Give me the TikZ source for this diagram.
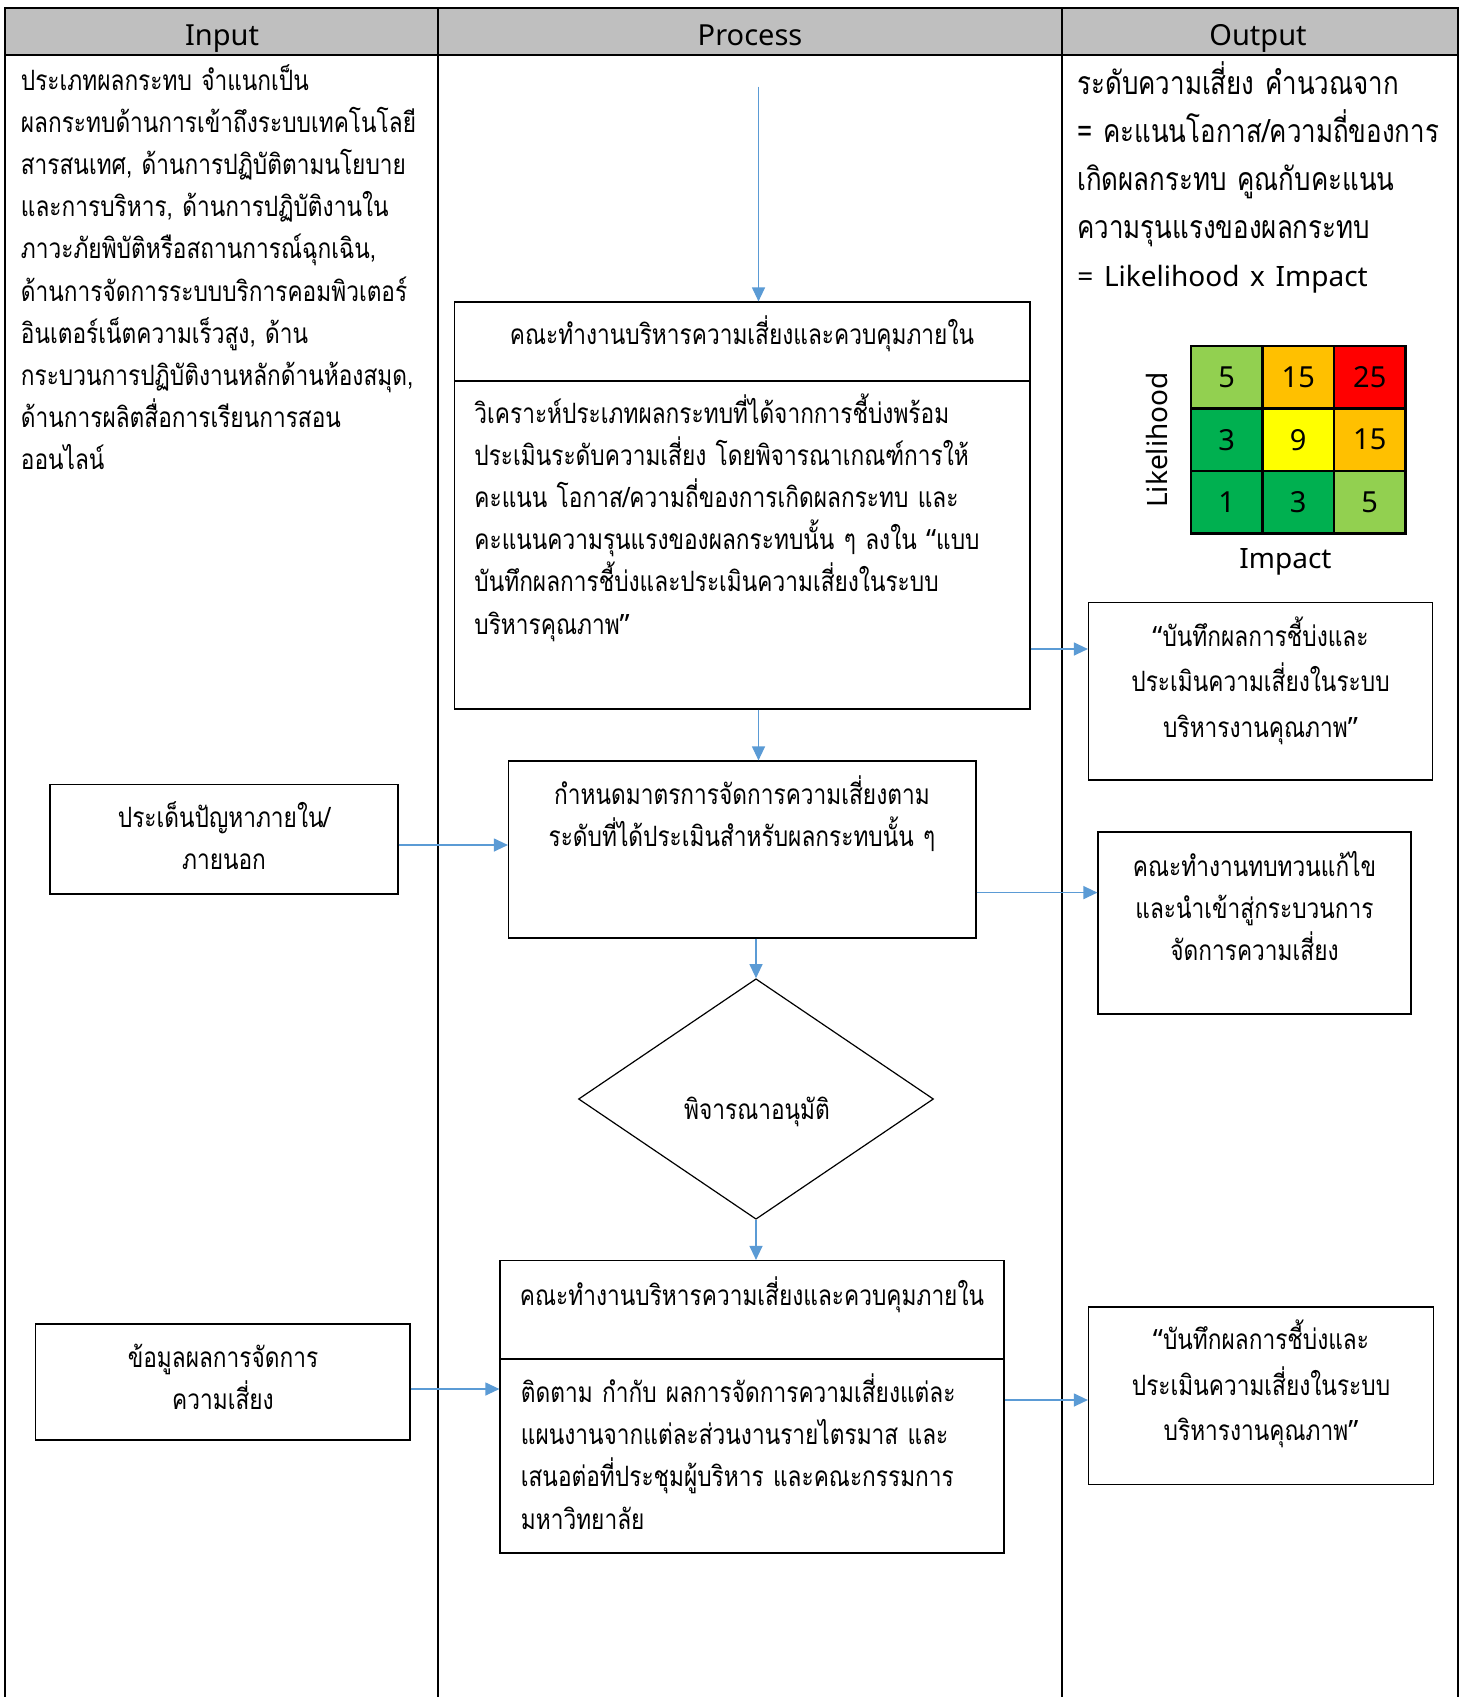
\documentclass[tikz,border=0pt]{standalone}
\usepackage{fontspec}
\setmainfont{Noto Sans}
\newfontfamily\thai[Script=Thai,FakeStretch=0.81]{Loma}
\usetikzlibrary{arrows.meta,shapes.geometric}
\definecolor{arrowblue}{HTML}{5B9BD5}
\definecolor{hdrgray}{HTML}{BFBFBF}
\definecolor{cgreen}{HTML}{00B050}
\definecolor{clight}{HTML}{92D050}
\definecolor{corange}{HTML}{FFC000}
\definecolor{cred}{HTML}{FF0000}
\definecolor{cyellow}{HTML}{FFFF00}
\tikzset{
  tbl/.style={line width=1pt, black},
  hdr/.style={font=\fontsize{14.5}{17}\selectfont, anchor=base, inner sep=0pt},
  box/.style={draw=black, line width=0.6pt, inner sep=0pt, rectangle},
  arr/.style={draw=arrowblue, line width=0.6pt, -{Triangle[length=7pt,width=6.5pt]}},
  thpara/.style={font=\thai\fontsize{14}{21.1}\selectfont, inner sep=0pt, anchor=base west, align=left, text width=320pt},
  thcent/.style={font=\thai\fontsize{14}{21.1}\selectfont, inner sep=0pt, anchor=base, align=center, text width=320pt},
  cell/.style={draw=black, line width=1.2pt, minimum width=35.75pt, minimum height=31.23pt, inner sep=0pt, font=\fontsize{14.5}{17}\selectfont},
  lbl/.style={font=\fontsize{14}{17}\selectfont, inner sep=0pt}
}
\begin{document}
\begin{tikzpicture}[x=0.5pt,y=-0.5pt]
\useasboundingbox (0,0) rectangle (1464,1697);
\fill[white] (0,0) rectangle (1464,1697);
% table
\fill[hdrgray] (5.4,7.6) rectangle (1457.5,55.2);
\draw[tbl] (5.4,1697) -- (5.4,7.6) -- (1457.5,7.6) -- (1457.5,1697);
\draw[tbl] (5.4,55.2) -- (1457.5,55.2);
\draw[tbl] (438,7.6) -- (438,1697);
\draw[tbl] (1061.5,7.6) -- (1061.5,1697);
\node[hdr] (hin) at (222,45) {Input};
\node[hdr] (hpr) at (750,45) {Process};
\node[hdr] (hout) at (1258,45) {Output};

% input paragraph
\node[thpara] (intext) at (20.5,90) {ประเภทผลกระทบ จำแนกเป็น\\
ผลกระทบด้านการเข้าถึงระบบเทคโนโลยี\\
สารสนเทศ, ด้านการปฏิบัติตามนโยบาย\\
และการบริหาร, ด้านการปฏิบัติงานใน\\
ภาวะภัยพิบัติหรือสถานการณ์ฉุกเฉิน,\\
ด้านการจัดการระบบบริการคอมพิวเตอร์\\
อินเตอร์เน็ตความเร็วสูง, ด้าน\\
กระบวนการปฏิบัติงานหลักด้านห้องสมุด,\\
ด้านการผลิตสื่อการเรียนการสอน\\
ออนไลน์};

% output paragraph
\node[thpara, font=\thai\fontsize{16}{24}\selectfont] (outtext) at (1077,94) {ระดับความเสี่ยง คำนวณจาก\\
= คะแนนโอกาส/ความถี่ของการ\\
เกิดผลกระทบ คูณกับคะแนน\\
ความรุนแรงของผลกระทบ\\
{\rmfamily\fontsize{14}{24}\selectfont = Likelihood x Impact}};

% risk matrix
\node[cell, fill=clight]  (m11) at (1226.75,377.2) {5};
\node[cell, fill=corange] (m12) at (1298.25,377.2) {15};
\node[cell, fill=cred]    (m13) at (1369.75,377.2) {25};
\node[cell, fill=cgreen]  (m21) at (1226.75,439.7) {3};
\node[cell, fill=cyellow] (m22) at (1298.25,439.7) {9};
\node[cell, fill=corange] (m23) at (1369.75,439.7) {15};
\node[cell, fill=cgreen]  (m31) at (1226.75,502.1) {1};
\node[cell, fill=cgreen]  (m32) at (1298.25,502.1) {3};
\node[cell, fill=clight]  (m33) at (1369.75,502.1) {5};
\node[lbl, rotate=90] (likel) at (1157,440) {Likelihood};
\node[lbl] (impact) at (1285.5,562) {Impact};

% process boxes
\coordinate (top) at (758.5,86.6);
\node[box, minimum width=287.8pt, minimum height=203.5pt] (b1) at (742.2,505.5) {};
\draw[line width=0.6pt] (b1.west |- 0,381) -- (b1.east |- 0,381);
\node[thcent] (b1t) at (742,344) {คณะทำงานบริหารความเสี่ยงและควบคุมภายใน};
\node[thpara] (b1b) at (474,423) {วิเคราะห์ประเภทผลกระทบที่ได้จากการชี้บ่งพร้อม\\
ประเมินระดับความเสี่ยง โดยพิจารณาเกณฑ์การให้\\
คะแนน โอกาส/ความถี่ของการเกิดผลกระทบ และ\\
คะแนนความรุนแรงของผลกระทบนั้น ๆ ลงใน {\rmfamily“}แบบ\\
บันทึกผลการชี้บ่งและประเมินความเสี่ยงในระบบ\\
บริหารคุณภาพ{\rmfamily”}};

\node[box, minimum width=233.75pt, minimum height=88.5pt] (b2) at (742.25,849.5) {};
\node[thcent] (b2t) at (742,804) {กำหนดมาตรการจัดการความเสี่ยงตาม\\ระดับที่ได้ประเมินสำหรับผลกระทบนั้น ๆ};

\node[box, diamond, aspect=1.476, minimum width=177.5pt, minimum height=120.25pt] (dd) at (756,1099) {};
\node[thcent] (ddt) at (757,1119) {พิจารณาอนุมัติ};

\node[box, minimum width=252pt, minimum height=146.25pt] (b3) at (752,1406.75) {};
\draw[line width=0.6pt] (b3.west |- 0,1359) -- (b3.east |- 0,1359);
\node[thcent] (b3t) at (752,1305) {คณะทำงานบริหารความเสี่ยงและควบคุมภายใน};
\node[thpara] (b3b) at (520.5,1402.5) {ติดตาม กำกับ ผลการจัดการความเสี่ยงแต่ละ\\
แผนงานจากแต่ละส่วนงานรายไตรมาส และ\\
เสนอต่อที่ประชุมผู้บริหาร และคณะกรรมการ\\
มหาวิทยาลัย};

% input boxes
\node[box, minimum width=174pt, minimum height=54.75pt] (in1) at (224,839.25) {};
\node[thcent] (in1t) at (224,827) {ประเด็นปัญหาภายใน/\\ภายนอก};
\node[box, minimum width=187.15pt, minimum height=58pt] (in2) at (222.85,1382) {};
\node[thcent] (in2t) at (223,1367) {ข้อมูลผลการจัดการ\\ความเสี่ยง};

% output boxes
\node[box, minimum width=172pt, minimum height=88.65pt] (oA) at (1260.5,691.35) {};
\node[thcent, font=\thai\fontsize{14}{22.75}\selectfont] (oAt) at (1260.5,646) {{\rmfamily“}บันทึกผลการชี้บ่งและ\\ประเมินความเสี่ยงในระบบ\\บริหารงานคุณภาพ{\rmfamily”}};
\node[box, minimum width=156.5pt, minimum height=91pt] (oB) at (1254.5,923) {};
\node[thcent] (oBt) at (1254.5,876) {คณะทำงานทบทวนแก้ไข\\และนำเข้าสู่กระบวนการ\\จัดการความเสี่ยง};
\node[box, minimum width=172.5pt, minimum height=88.75pt] (oC) at (1261,1395.75) {};
\node[thcent, font=\thai\fontsize{14}{22.75}\selectfont] (oCt) at (1261,1349.6) {{\rmfamily“}บันทึกผลการชี้บ่งและ\\ประเมินความเสี่ยงในระบบ\\บริหารงานคุณภาพ{\rmfamily”}};

% connectors
\coordinate (y1) at (0,649);
\coordinate (y2) at (0,892.6);
\coordinate (y3) at (0,1400);
\coordinate (y4) at (0,845);
\coordinate (y5) at (0,1389);
\draw[arr] (top) -- (top |- b1.north);
\draw[arr] (b1.south -| top) -- (b2.north -| top);
\draw[arr] (b2.south -| dd.north) -- (dd.north);
\draw[arr] (dd.south) -- (b3.north -| dd.south);
\draw[arr] (in1.east |- y4) -- (b2.west |- y4);
\draw[arr] (in2.east |- y5) -- (b3.west |- y5);
\draw[arr] (b1.east |- y1) -- (oA.west |- y1);
\draw[arr] (b2.east |- y2) -- (oB.west |- y2);
\draw[arr] (b3.east |- y3) -- (oC.west |- y3);
\end{tikzpicture}
\end{document}
